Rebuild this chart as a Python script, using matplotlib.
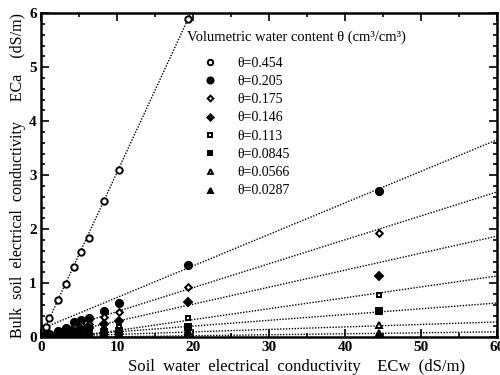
import matplotlib

matplotlib.use("Agg")
import matplotlib.pyplot as plt
from matplotlib.ticker import MultipleLocator

# soil water EC (dS/m) at which ECa was measured
ecw = [0.6, 1.1, 2.2, 3.3, 4.3, 5.3, 6.3, 8.3, 10.3, 19.4, 44.5]

theta_labels = ["0.454", "0.205", "0.175", "0.146", "0.113", "0.0845", "0.0566", "0.0287"]

# bulk soil EC (dS/m), one list per water content
eca_0454 = [0.19, 0.35, 0.69, 0.99, 1.30, 1.58, 1.83, 2.52, 3.09, 5.90]
eca_0205 = [0.05, 0.06, 0.11, 0.17, 0.28, 0.32, 0.35, 0.49, 0.63, 1.33, 2.70]
eca_0175 = [0.03, 0.05, 0.09, 0.13, 0.18, 0.22, 0.25, 0.37, 0.46, 0.92, 1.93]
eca_0146 = [0.02, 0.03, 0.06, 0.09, 0.12, 0.15, 0.17, 0.24, 0.30, 0.65, 1.14]
eca_0113 = [0.01, 0.02, 0.04, 0.06, 0.08, 0.09, 0.11, 0.14, 0.18, 0.35, 0.78]
eca_00845 = [0.01, 0.02, 0.03, 0.04, 0.05, 0.06, 0.07, 0.09, 0.11, 0.19, 0.48]
eca_00566 = [0.01, 0.01, 0.02, 0.03, 0.03, 0.04, 0.05, 0.06, 0.07, 0.12, 0.22]
eca_00287 = [0.01, 0.01, 0.01, 0.02, 0.02, 0.02, 0.03, 0.03, 0.04, 0.07, 0.08]

# regression lines drawn on the figure: ECa = slope * ECw + intercept
line_slopes = [0.304, 0.0584, 0.0443, 0.0315, 0.0202, 0.0107, 0.0046, 0.0018]
line_intercepts = [0.01, 0.15, 0.03, -0.02, -0.08, -0.01, 0.005, -0.01]

series = [eca_0454, eca_0205, eca_0175, eca_0146, eca_0113, eca_00845, eca_00566, eca_00287]
markers = ["o", "o", "D", "D", "s", "s", "^", "^"]
filled = [False, True, False, True, False, True, False, True]
sizes = [4.6, 5.2, 3.4, 3.8, 3.4, 3.8, 4.0, 4.2]

plt.rcParams["font.family"] = ["Liberation Serif", "DejaVu Serif"]

fig = plt.figure(figsize=(5, 3.75), dpi=100)
ax = fig.add_axes([0.082, 0.101, 0.912, 0.864])

for i, values in enumerate(series):
    xs = ecw[: len(values)]
    x_end = 60.0
    if line_slopes[i] * 60 + line_intercepts[i] > 6:
        x_end = (6 - line_intercepts[i]) / line_slopes[i]
    ax.plot([0, x_end], [line_intercepts[i], line_slopes[i] * x_end + line_intercepts[i]],
            color="black", linestyle=(0, (1, 1.1)), linewidth=1.0)
    ax.plot(xs, values, linestyle="none", marker=markers[i], markersize=sizes[i],
            markerfacecolor="black" if filled[i] else "white", markeredgecolor="black",
            markeredgewidth=1.4, label="θ=" + theta_labels[i], zorder=3)

ax.set_xlim(0, 60)
ax.set_ylim(0, 6)
ax.xaxis.set_major_locator(MultipleLocator(10))
ax.xaxis.set_minor_locator(MultipleLocator(5))
ax.yaxis.set_major_locator(MultipleLocator(1))
ax.yaxis.set_minor_locator(MultipleLocator(0.2))
ax.tick_params(which="both", direction="in", top=True, right=True, width=1.2)
ax.tick_params(which="major", length=6, labelsize=11, pad=3)
ax.tick_params(which="minor", length=3)
for lab in ax.get_xticklabels() + ax.get_yticklabels():
    lab.set_fontweight("bold")
for spine in ax.spines.values():
    spine.set_linewidth(1.8)

ax.set_xlabel("Soil  water  electrical  conductivity    ECw  (dS/m)", fontsize=12, labelpad=0)
ax.xaxis.set_label_coords(0.56, -0.066, transform=ax.transAxes)
ax.xaxis.label.set_va("top")
ax.set_ylabel("Bulk  soil  electrical  conductivity     ECa    (dS/m)", fontsize=11.5, labelpad=2)

ax.text(0.321, 0.924, "Volumetric water content θ (cm³/cm³)", transform=ax.transAxes,
        fontsize=10.5, ha="left", va="center")
ax.legend(loc="upper left", bbox_to_anchor=(0.318, 0.896), frameon=False,
          fontsize=10, handletextpad=1.0, labelspacing=0.38, borderpad=0.2,
          markerscale=0.85)

fig.savefig("out.png", dpi=100, facecolor="white")
